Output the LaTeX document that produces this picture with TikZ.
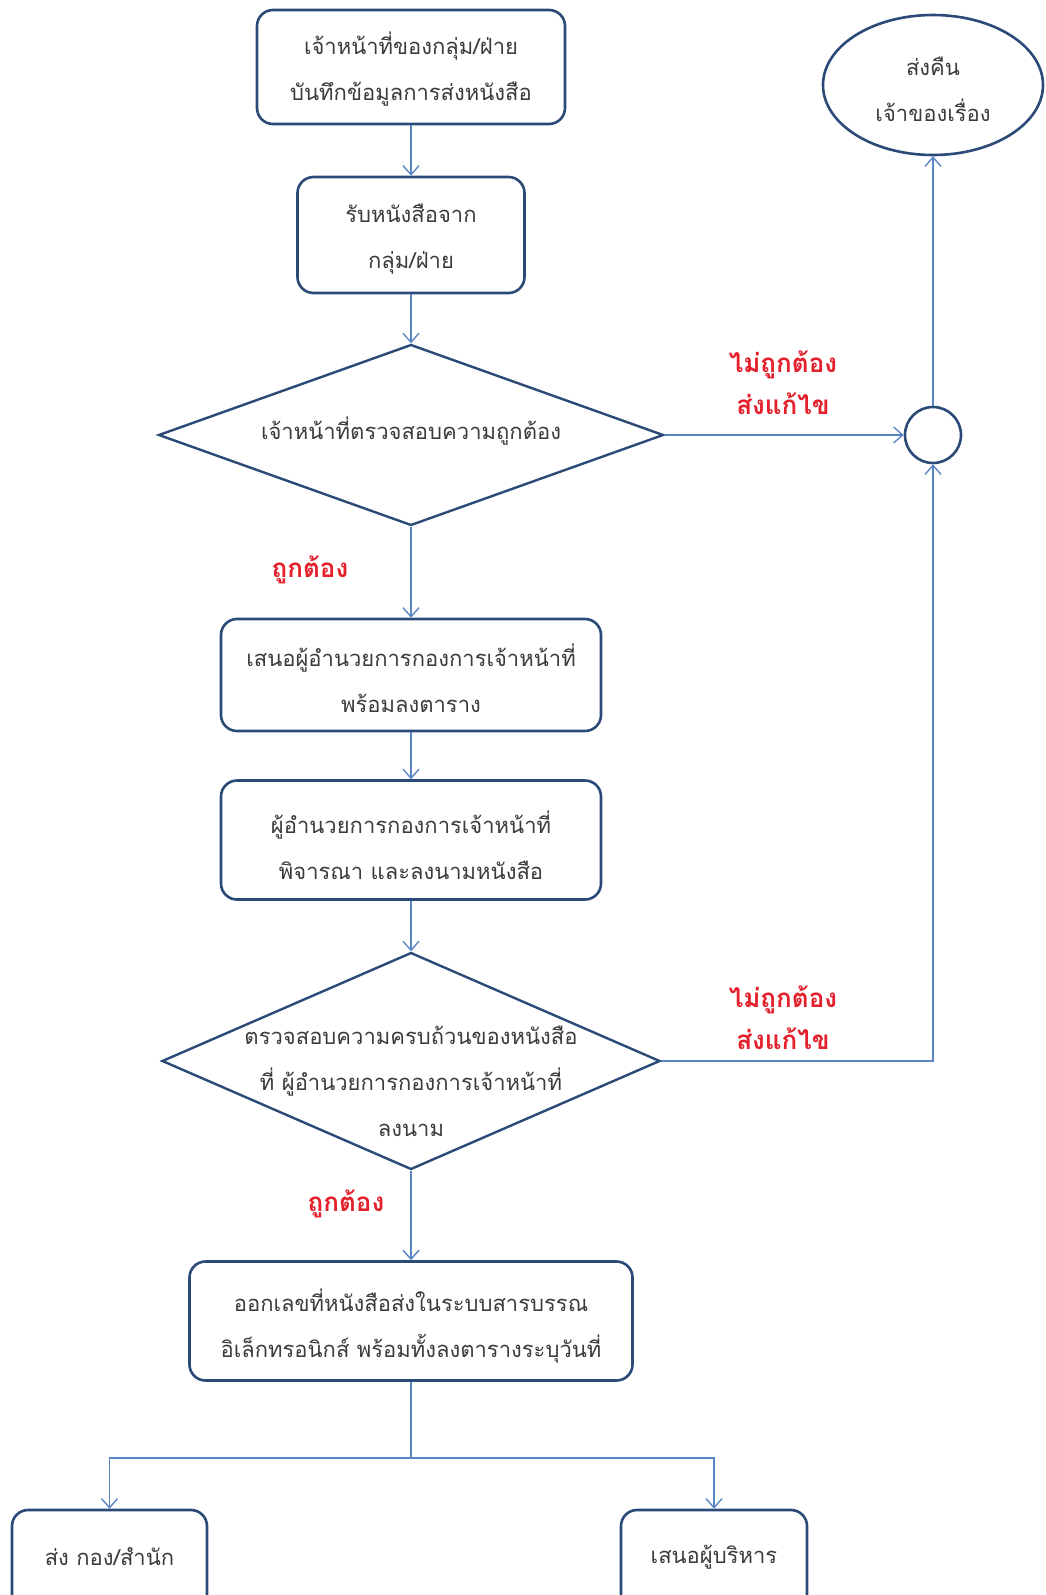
\documentclass[tikz,border=0pt]{standalone}
\usepackage{fontspec}
\newfontfamily\thai[Script=Thai]{Loma}
\usetikzlibrary{shapes.geometric,arrows.meta}
\definecolor{boxblue}{HTML}{2B4A78}
\definecolor{linkblue}{HTML}{5A86C4}
\definecolor{labred}{HTML}{E3202B}
\definecolor{txtgray}{HTML}{3C3C3C}
\tikzset{
  boxstyle/.style={draw=boxblue, line width=2.6pt, rounded corners=16pt, fill=white, inner sep=0pt},
  dstyle/.style={draw=boxblue, line width=2.4pt, diamond, inner sep=0pt, fill=white},
  txt/.style={font=\thai\fontsize{22}{46}\selectfont, text=txtgray, align=center, inner sep=0pt},
  lab/.style={font=\thai\bfseries\fontsize{26}{42}\selectfont, text=labred, align=center, inner sep=0pt},
  conn/.style={draw=linkblue, line width=1.6pt, -{Straight Barb[length=9pt,width=16pt,line width=1.4pt]}},
  plain/.style={draw=linkblue, line width=1.6pt}
}
\begin{document}
\begin{tikzpicture}[x=1pt,y=-1pt]
\useasboundingbox (0,0) rectangle (1045,1595);
\clip (0,0) rectangle (1045,1595);
% nodes
\node[boxstyle, minimum width=308pt, minimum height=114pt] (b1) at (411,67) {};
\node[txt] at (411,69) {เจ้าหน้าที่ของกลุ่ม/ฝ่าย\\บันทึกข้อมูลการส่งหนังสือ};
\node[boxstyle, minimum width=227pt, minimum height=116pt] (b2) at (411,235) {};
\node[txt] at (411,239) {รับหนังสือจาก\\กลุ่ม/ฝ่าย};
\node[dstyle, minimum width=505pt, minimum height=181pt] (d1) at (411,435) {};
\node[txt] at (411,431) {เจ้าหน้าที่ตรวจสอบความถูกต้อง};
\node[draw=boxblue, line width=2.6pt, circle, minimum size=56pt, inner sep=0pt] (c) at (933,435) {};
\node[draw=boxblue, line width=2.6pt, ellipse, minimum width=220pt, minimum height=140pt, inner sep=0pt] (e) at (933,85) {};
\node[txt] at (933,89) {ส่งคืน\\เจ้าของเรื่อง};
\node[boxstyle, minimum width=380pt, minimum height=112pt] (b3) at (411,675) {};
\node[txt] at (411,678) {เสนอผู้อำนวยการกองการเจ้าหน้าที่\\พร้อมลงตาราง};
\node[boxstyle, minimum width=380pt, minimum height=119pt] (b4) at (411,840) {};
\node[txt] at (411,845) {ผู้อำนวยการกองการเจ้าหน้าที่\\พิจารณา และลงนามหนังสือ};
\node[dstyle, minimum width=498pt, minimum height=217pt] (d2) at (411,1061) {};
\node[txt] at (411,1081) {ตรวจสอบความครบถ้วนของหนังสือ\\ที่ ผู้อำนวยการกองการเจ้าหน้าที่\\ลงนาม};
\node[boxstyle, minimum width=443pt, minimum height=119pt] (b5) at (411,1321) {};
\node[txt] at (411,1326) {ออกเลขที่หนังสือส่งในระบบสารบรรณ\\อิเล็กทรอนิกส์ พร้อมทั้งลงตารางระบุวันที่};
\node[boxstyle, minimum width=195pt, minimum height=100pt] (b6) at (109.5,1560) {};
\node[txt] at (109.5,1557) {ส่ง กอง/สำนัก};
\node[boxstyle, minimum width=186pt, minimum height=100pt] (b7) at (714,1560) {};
\node[txt] at (714,1557) {เสนอผู้บริหาร};
% labels
\node[lab] (l1) at (783,383) {ไม่ถูกต้อง\\ส่งแก้ไข};
\node[lab] (l2) at (310,570) {ถูกต้อง};
\node[lab] (l3) at (783,1018) {ไม่ถูกต้อง\\ส่งแก้ไข};
\node[lab] (l4) at (346,1204) {ถูกต้อง};
% connectors
\draw[conn] (b1.south) -- (b2.north);
\draw[conn] (b2.south) -- (d1.north);
\draw[conn] (d1.east) -- (c.west);
\draw[conn] (c.north) -- (e.south);
\draw[conn] (d1.south) -- (b3.north);
\draw[conn] (b3.south) -- (b4.north);
\draw[conn] (b4.south) -- (d2.north);
\draw[conn] (d2.east) -| (c.south);
\draw[conn] (d2.south) -- (b5.north);
\coordinate (j) at (411,1458);
\draw[plain] (b5.south) -- (j);
\draw[conn] (j) -| (b6.north);
\draw[conn] (j) -| (b7.north);
\end{tikzpicture}
\end{document}
